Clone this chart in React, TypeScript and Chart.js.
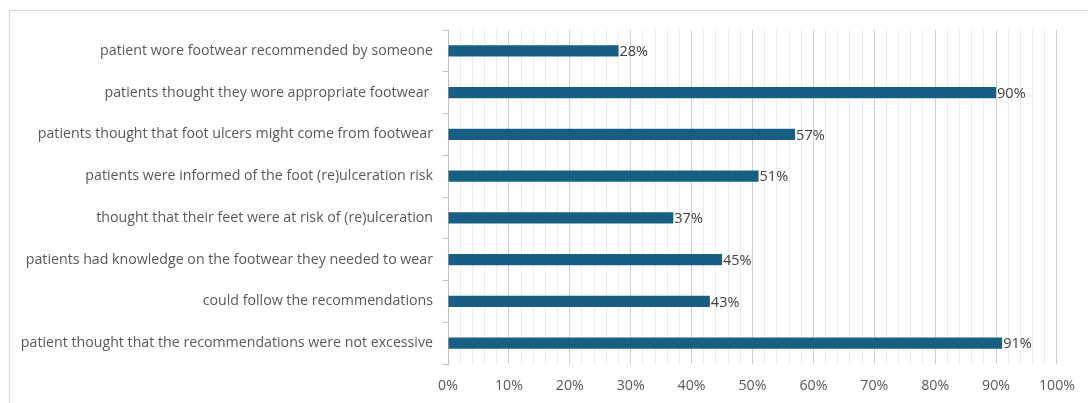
import React, { useEffect, useRef } from "react";
import { Chart, registerables } from "chart.js";

Chart.register(...registerables);

const categories = [
  "patient wore footwear recommended by someone",
  "patients thought they wore appropriate footwear ",
  "patients thought that foot ulcers might come from footwear",
  "patients were informed of the foot (re)ulceration risk",
  "thought that their feet were at risk of (re)ulceration",
  "patients had knowledge on the footwear they needed to wear",
  "could follow the recommendations",
  "patient thought that the recommendations were not excessive",
];
const values = [28, 90, 57, 51, 37, 45, 43, 91];
const xTickLabels = ["0%", "10%", "20%", "30%", "40%", "50%", "60%", "70%", "80%", "90%", "100%"];

const FONT = "'Open Sans', sans-serif";

const dataLabelPlugin = {
  id: "dataLabels",
  afterDatasetsDraw(chart: any) {
    const ctx = chart.ctx;
    const meta = chart.getDatasetMeta(0);
    ctx.save();
    ctx.font = `14.5px ${FONT}`;
    ctx.fillStyle = "#404040";
    ctx.textAlign = "left";
    ctx.textBaseline = "middle";
    meta.data.forEach((bar: any, i: number) => {
      ctx.fillText(`${values[i]}%`, bar.x + 1, bar.y + 1);
    });
    ctx.restore();
  },
};

export default function App() {
  const ref = useRef<HTMLCanvasElement>(null);
  useEffect(() => {
    if (!ref.current) return;
    const chart = new Chart(ref.current, {
      type: "bar",
      data: {
        labels: categories,
        datasets: [
          {
            data: values,
            backgroundColor: "#175f82",
            borderWidth: 0,
            barPercentage: 0.55,
            categoryPercentage: 0.5,
          },
        ],
      },
      options: {
        indexAxis: "y",
        animation: false,
        responsive: false,
        maintainAspectRatio: false,
        layout: { padding: { top: 30, right: 30, left: 10, bottom: 0 } },
        plugins: { legend: { display: false }, tooltip: { enabled: false } },
        scales: {
          x: {
            min: 0,
            max: 100,
            afterBuildTicks: (scale: any) => {
              const t = [];
              for (let v = 0; v <= 100; v += 2) t.push({ value: v });
              scale.ticks = t;
            },
            afterFit: (scale: any) => {
              scale.height = 39;
            },
            ticks: {
              autoSkip: false,
              maxRotation: 0,
              padding: 13,
              color: "#595959",
              font: { family: FONT, size: 14.2 },
              callback: (v: any) => (Number(v) % 10 === 0 ? xTickLabels[Number(v) / 10] : ""),
            },
            grid: {
              drawTicks: false,
              color: (c: any) => (c.tick && c.tick.value % 10 === 0 ? "#d0d0d0" : "#ececec"),
              lineWidth: 1,
            },
            border: { display: false },
          },
          y: {
            afterFit: (scale: any) => {
              scale.width = 438;
            },
            ticks: {
              color: "#595959",
              padding: 10,
              font: { family: FONT, size: 14.2 },
            },
            grid: {
              drawOnChartArea: false,
              drawTicks: true,
              tickLength: 5,
              color: "#bfbfbf",
            },
            border: { display: true, color: "#bfbfbf" },
          },
        },
      },
      plugins: [dataLabelPlugin],
    });
    return () => chart.destroy();
  }, []);
  return (
    <div style={{ position: "fixed", left: 0, top: 0, width: 1088, height: 403, background: "#fff" }}>
      <div
        style={{
          position: "absolute",
          left: 9,
          top: 10,
          width: 1100,
          height: 420,
          borderTop: "1px solid #d9d9d9",
          borderLeft: "1px solid #d9d9d9",
        }}
      />
      <canvas ref={ref} width={1088} height={403} style={{ position: "absolute", left: 0, top: 0 }} />
    </div>
  );
}
